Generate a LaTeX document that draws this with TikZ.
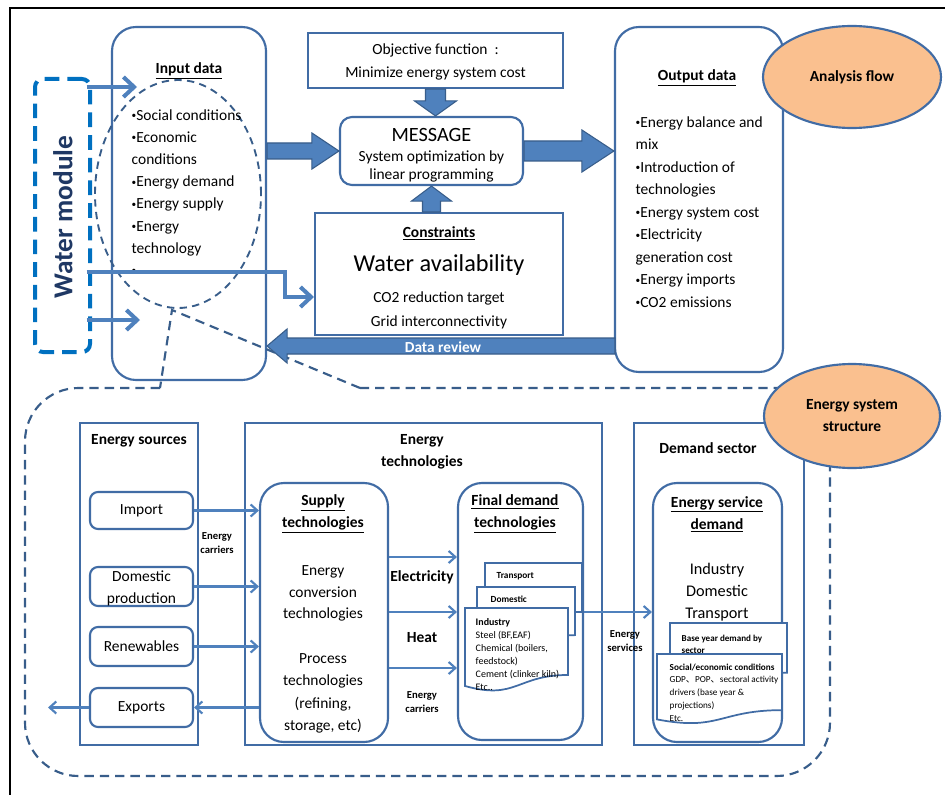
\documentclass[tikz,border=0pt]{standalone}
\usepackage{fontspec}
\setmainfont{Carlito}
\newfontfamily\cjk{Noto Sans CJK SC}
\usetikzlibrary{arrows.meta,calc,shapes.geometric}
\definecolor{boxblue}{RGB}{65,108,165}
\definecolor{arrfill}{RGB}{79,129,189}
\definecolor{arrline}{RGB}{56,93,138}
\definecolor{wmblue}{RGB}{0,112,192}
\definecolor{navy}{RGB}{31,56,100}
\definecolor{peach}{RGB}{250,192,143}
\newcommand\myfs[2]{\fontsize{#1}{#2}\selectfont}
\newcommand\bul{\raisebox{1.2pt}{\fontsize{7}{7}\selectfont •}}
% block arrows: #1 start, #2 tip, #3 half shaft, #4 half head, #5 head length (px)
\newcommand\rarr[5]{\draw[blk] ($(#1)+(0,-#3)$) -- ($(#2)+(-#5,-#3)$) -- ($(#2)+(-#5,-#4)$) -- (#2) -- ($(#2)+(-#5,#4)$) -- ($(#2)+(-#5,#3)$) -- ($(#1)+(0,#3)$) -- cycle;}
\newcommand\larr[5]{\draw[blk] ($(#1)+(0,-#3)$) -- ($(#2)+(#5,-#3)$) -- ($(#2)+(#5,-#4)$) -- (#2) -- ($(#2)+(#5,#4)$) -- ($(#2)+(#5,#3)$) -- ($(#1)+(0,#3)$) -- cycle;}
\newcommand\darr[5]{\draw[blk] ($(#1)+(-#3,0)$) -- ($(#2)+(-#3,-#5)$) -- ($(#2)+(-#4,-#5)$) -- (#2) -- ($(#2)+(#4,-#5)$) -- ($(#2)+(#3,-#5)$) -- ($(#1)+(#3,0)$) -- cycle;}
\newcommand\uarr[5]{\draw[blk] ($(#1)+(-#3,0)$) -- ($(#2)+(-#3,#5)$) -- ($(#2)+(-#4,#5)$) -- (#2) -- ($(#2)+(#4,#5)$) -- ($(#2)+(#3,#5)$) -- ($(#1)+(#3,0)$) -- cycle;}
% document shape: x1, y1, x2, h
\newcommand\docpath[4]{(#1,#2) -- (#3,#2) -- (#3,#2+0.802*#4) .. controls ({(#1+#3)/2},#2+0.802*#4) and ({(#1+#3)/2},#2+1.107*#4) .. (#1,#2+0.934*#4) -- cycle}
\begin{document}
\begin{tikzpicture}[x=0.75pt,y=-0.75pt,
 sz/.style 2 args={minimum width=#1*0.75pt, minimum height=#2*0.75pt},
 rbox/.style={draw=boxblue, line width=1.6pt, rounded corners=18pt, inner sep=0pt, fill=white},
 sbox/.style={draw=boxblue, line width=1.5pt, inner sep=0pt, fill=white},
 frame/.style={draw=boxblue, line width=1.2pt, inner sep=0pt, fill=white},
 srcbox/.style={draw=boxblue, line width=1.6pt, rounded corners=6pt, inner sep=0pt, fill=white},
 wmbox/.style={draw=wmblue, line width=3pt, dash pattern=on 11pt off 6pt, rounded corners=6pt, inner sep=0pt},
 dashell/.style={ellipse, draw=arrline, line width=1.4pt, dash pattern=on 5.5pt off 4pt, inner sep=0pt},
 bigdash/.style={draw=arrline, line width=1.6pt, dash pattern=on 7pt off 4.5pt},
 ell/.style={ellipse, draw=boxblue, line width=1.6pt, fill=peach, inner sep=0pt, font=\bfseries\myfs{11.6}{16.5}, align=center},
 blk/.style={fill=arrfill, draw=arrline, line width=0.8pt, line join=miter},
 warr/.style={draw=arrfill, line width=3pt, -{Straight Barb[length=8pt,width=15pt]}},
 tarr/.style={draw=arrfill, line width=1.6pt, -{Straight Barb[length=5pt,width=9pt]}},
 docst/.style={draw=boxblue, line width=1.3pt, fill=white},
 tb/.style={font=\bfseries\myfs{11.6}{16.5}, align=center},
 tx/.style={font=\myfs{11.6}{16.5}, align=center},
 sm/.style={font=\bfseries\myfs{8}{11}, align=center}
]
\useasboundingbox (0,0) rectangle (945,795);
\fill[white] (0,0) rectangle (945,795);
\coordinate (fr1) at (10,795); \coordinate (fr2) at (10,8); \coordinate (fr3) at (945,8);
\draw[black, line width=1pt] (fr1) -- (fr2) -- (fr3);

% ---------- top: analysis flow ----------
\node[rbox, sz={154}{353}] (in) at (189,203.5) {};
\node[tb] (inT) at (189,71) {\underline{Input data}};
\node[dashell, sz={166}{228}] (inell) at (178,194) {};
\node[anchor=west, align=left, font=\myfs{11.6}{16.6}] (inL) at (127,192.5)
 {\bul Social conditions\\\bul Economic\\conditions\\\bul Energy demand\\\bul Energy supply\\\bul Energy\\technology\\\bul};

\node[wmbox, sz={55}{273}] (wm) at (62.5,215.5) {};
\node[rotate=90, font=\bfseries\myfs{20.5}{24}, text=navy] (wmT) at (63,217) {Water module};

\node[sbox, sz={255}{55}] (obj) at (435.5,60.5) {};
\node[font=\myfs{11.6}{17.2}, align=center] (objT) at (435.5,61.5) {Objective function\ \ :\\Minimize energy system cost};

\node[rbox, rounded corners=9pt, sz={183}{68}] (msg) at (431.5,151) {};
\node[font=\myfs{15.2}{18}] (msgT) at (431.5,135) {MESSAGE};
\node[font=\myfs{11.6}{13.8}, align=center] (msgS) at (431.5,166.5) {System optimization by\\linear programming};

\node[sbox, sz={248}{122}] (cons) at (439,274) {};
\node[tb] (consT) at (439,233) {\underline{Constraints}};
\node[font=\myfs{18.2}{22}] (consW) at (439,265) {Water availability};
\node[font=\myfs{11.6}{18}, align=center] (consL) at (439,310) {CO2 reduction target\\Grid interconnectivity};

\node[rbox, sz={168}{345}] (out) at (699,199.5) {};
\node[tb] (outT) at (697,78) {\underline{Output data}};
\node[anchor=west, align=left, font=\myfs{11.6}{16.9}] (outL) at (631,212)
 {\bul Energy balance and\\mix\\\bul Introduction of\\technologies\\\bul Energy system cost\\\bul Electricity\\generation cost\\\bul Energy imports\\\bul CO2 emissions};

\node[ell, sz={178}{102}] (af) at (852,77) {Analysis flow};

% ---------- bottom dashed region ----------
\coordinate (cap) at (172,310);
\coordinate (c1) at (160,388);
\coordinate (c2) at (360,388);
\draw[bigdash] (c2) -- (cap) -- (c1);
\draw[bigdash, rounded corners=40pt] (c1) -- (25,388) -- (25,776) -- (830,776) -- (830,388) -- (c2);

% ---------- top arrows ----------
\coordinate (a1s) at (in.east |- msg.west);
\rarr{a1s}{msg.west}{8}{18}{27}
\coordinate (a2e) at (msg.east -| out.west);
\rarr{msg.east}{a2e}{10}{21}{32}
\coordinate (a3e) at (obj.south |- msg.north);
\darr{obj.south}{a3e}{10}{21}{15}
\coordinate (a4e) at (msg.south);
\coordinate (a4s) at (msg.south |- cons.north);
\uarr{a4s}{a4e}{9}{20}{15}
\coordinate (drS) at (615,346);
\coordinate (drE) at (in.east |- drS);
\larr{drS}{drE}{8}{17}{20}
\node[text=white, font=\bfseries\myfs{11.5}{14}] (drT) at (443,347) {Data review};

\coordinate (w1e) at (137,87);
\coordinate (w3e) at (140,320);
\coordinate (w2a) at (285,272);
\coordinate (w2e) at (cons.west |- 0,297);
\draw[warr] ([xshift=-4pt]wm.east |- w1e) -- (w1e);
\draw[warr] ([xshift=-4pt]wm.east |- w2a) -- (w2a) |- (w2e);
\draw[warr] ([xshift=-4pt]wm.east |- w3e) -- (w3e);

% ---------- energy sources ----------
\node[frame, sz={118}{322}] (es) at (139,584) {};
\node[tb] (esT) at (139,441) {Energy sources};
\node[srcbox, sz={103}{37}] (imp) at (141.5,510.5) {};
\node[tx] (impT) at (141.5,510.5) {Import};
\node[srcbox, sz={103}{39}] (dom) at (141.5,586.5) {};
\node[tx] (domT) at (141.5,588) {Domestic\\production};
\node[srcbox, sz={103}{39}] (ren) at (141.5,646.5) {};
\node[tx] (renT) at (141.5,646.5) {Renewables};
\node[srcbox, sz={103}{39}] (exp) at (141.5,707.5) {};
\node[tx] (expT) at (141.5,707.5) {Exports};

% ---------- energy technologies ----------
\node[frame, sz={357}{322}] (et) at (423.5,584) {};
\node[tb] (etT) at (422,452) {Energy\\technologies};
\node[rbox, sz={128}{259}] (sup) at (324,612.5) {};
\node[tb] (supT) at (323,514) {\underline{Supply}\\\underline{technologies}};
\node[font=\myfs{11.6}{16.2}, align=center] (supA) at (323,593.5) {Energy\\conversion\\technologies};
\node[font=\myfs{11.6}{16.8}, align=center] (supB) at (323,693.5) {Process\\technologies\\(refining,\\storage, etc)};

\node[rbox, sz={125}{257}] (fin) at (520.5,611.5) {};
\node[tb] (finT) at (515,514) {\underline{Final demand}\\\underline{technologies}};
\draw[docst] \docpath{485}{563}{582}{61};
\draw[docst] \docpath{477}{587}{575}{60};
\draw[docst] \docpath{465}{608}{568}{83.5};
\node[anchor=west, font=\bfseries\myfs{7}{9}] (trT) at (492,576) {Transport};
\node[anchor=west, font=\bfseries\myfs{7}{9}] (doT) at (486,599) {Domestic};
\node[anchor=west, align=left, font=\myfs{7.5}{9.75}] (indT) at (471,654.5)
 {\textbf{Industry}\\Steel (BF,EAF)\\Chemical (boilers,\\feedstock)\\Cement (clinker kiln)\\Etc..};

% ---------- demand sector ----------
\node[frame, sz={170}{322}] (ds) at (719,584) {};
\node[tb] (dsT) at (708,448) {Demand sector};
\node[rbox, sz={129}{259}] (esd) at (717.5,612.5) {};
\node[tb] (esdT) at (717,514) {\underline{Energy service}\\\underline{demand}};
\node[font=\myfs{12.2}{16.5}, align=center] (esdL) at (717,592) {Industry\\Domestic\\Transport};
\draw[docst] \docpath{670}{623}{787}{62};
\draw[docst] \docpath{657}{654}{782}{70};
\node[anchor=west, align=left, font=\bfseries\myfs{6.8}{9}] (byT) at (677,644) {Base year demand by\\sector};
\node[anchor=west, align=left, font=\myfs{6.9}{9.6}] (soT) at (665,692.5)
 {\textbf{Social/economic conditions}\\GDP{\cjk 、}POP{\cjk 、}sectoral activity\\drivers (base year \&\\projections)\\Etc.};

% ---------- bottom arrows ----------
\draw[tarr] (imp.east) -- (imp.east -| sup.west);
\draw[tarr] (dom.east) -- (dom.east -| sup.west);
\draw[tarr] (ren.east) -- (ren.east -| sup.west);
\draw[tarr] (exp.east -| sup.west) -- (exp.east);
\coordinate (exOut) at (48,707.5);
\draw[tarr] (exp.west) -- (exOut);
\node[sm] (ecA) at (217,543) {Energy\\carriers};

\coordinate (el) at (0,557); \coordinate (ht) at (0,612); \coordinate (ec) at (0,668);
\draw[tarr] (sup.east |- el) -- (fin.west |- el);
\draw[tarr] (sup.east |- ht) -- (fin.west |- ht);
\draw[tarr] (sup.east |- ec) -- (fin.west |- ec);
\node[tb] (elT) at (422,577) {Electricity};
\node[tb] (htT) at (422,638) {Heat};
\node[sm] (ecB) at (422,702) {Energy\\carriers};

\coordinate (sv) at (0,612);
\draw[tarr] (fin.east |- sv) -- (esd.west |- sv);
\node[sm] (svT) at (625,641) {Energy\\services};

\node[ell, sz={176}{104}] (ess) at (852,416) {Energy system\\structure};
\end{tikzpicture}
\end{document}
